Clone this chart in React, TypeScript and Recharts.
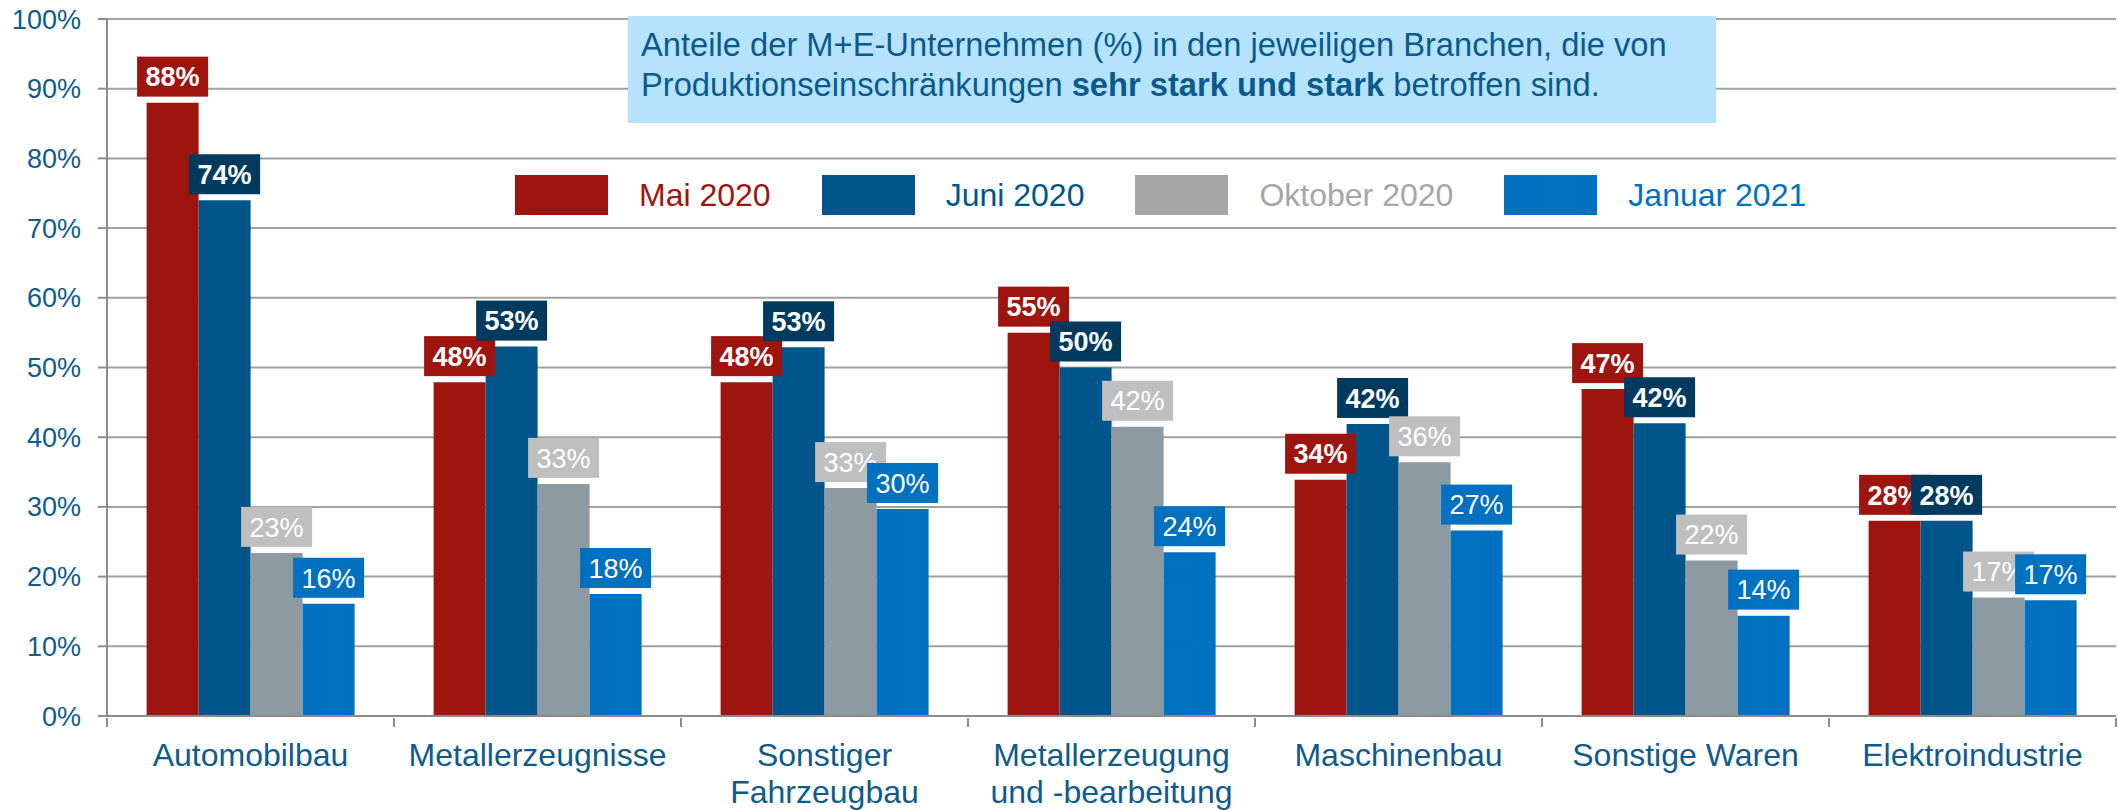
import React from 'react';
import { BarChart, Bar, XAxis, YAxis, CartesianGrid, Legend, LabelList } from 'recharts';

const FONT = '"Liberation Sans", Arial, sans-serif';

const CATEGORIES = [
  'Automobilbau',
  'Metallerzeugnisse',
  'Sonstiger\nFahrzeugbau',
  'Metallerzeugung\nund -bearbeitung',
  'Maschinenbau',
  'Sonstige Waren',
  'Elektroindustrie',
];
const MAI_2020 = [88, 47.9, 47.9, 55, 33.9, 46.9, 28];
const JUNI_2020 = [74, 53, 52.9, 50, 41.9, 42, 28];
const OKTOBER_2020 = [23.4, 33.3, 32.7, 41.5, 36.4, 22.3, 17];
const JANUAR_2021 = [16.1, 17.5, 29.7, 23.5, 26.6, 14.4, 16.6];
const Y_TICKS = [0, 10, 20, 30, 40, 50, 60, 70, 80, 90, 100];

const SERIES = [
  { key: 'mai', name: 'Mai 2020', bar: '#9E1510', labelBg: '#9E1510', swatch: '#9E1510', text: '#9E1510', bold: true },
  { key: 'juni', name: 'Juni 2020', bar: '#00568A', labelBg: '#003A5F', swatch: '#00568A', text: '#00568A', bold: true },
  { key: 'okt', name: 'Oktober 2020', bar: '#8E9AA2', labelBg: '#BFBFBF', swatch: '#A6A6A6', text: '#A6A6A6', bold: false },
  { key: 'jan', name: 'Januar 2021', bar: '#0071C1', labelBg: '#0070C0', swatch: '#0070C0', text: '#0070C0', bold: false },
];

const data = CATEGORIES.map((name, i) => ({
  name,
  mai: MAI_2020[i],
  juni: JUNI_2020[i],
  okt: OKTOBER_2020[i],
  jan: JANUAR_2021[i],
}));

const AXIS_TEXT = '#0E5B8C';
const AXIS_LINE = '#8C8C8C';

// category label, plus the little tick marks at the category boundaries
const CategoryTick = (props: any) => {
  const { x, y, payload, index } = props;
  const half = payload && payload.offset ? payload.offset : 143.5;
  const lines = String(payload.value).split('\n');
  return (
    <g>
      <line x1={x - half} y1={y} x2={x - half} y2={y + 9} stroke={AXIS_LINE} strokeWidth={2} />
      {index === CATEGORIES.length - 1 && (
        <line x1={x + half} y1={y} x2={x + half} y2={y + 9} stroke={AXIS_LINE} strokeWidth={2} />
      )}
      {lines.map((l, i) => (
        <text key={i} x={x} y={y + 48 + i * 37} textAnchor="middle" fill={AXIS_TEXT} fontSize={32} fontFamily={FONT}>
          {l}
        </text>
      ))}
    </g>
  );
};

const makeLabel = (s: (typeof SERIES)[number]) => (props: any) => {
  const { x, y, width, value } = props;
  if (value == null) return null;
  const cx = Number(x) + Number(width) / 2;
  const bottom = Number(y) - 6;
  return (
    <g>
      <rect x={cx - 35.5} y={bottom - 40} width={71} height={40} fill={s.labelBg} />
      <text
        x={cx}
        y={bottom - 20}
        dy="0.36em"
        textAnchor="middle"
        fill="#fff"
        fontSize={27}
        fontWeight={s.bold ? 700 : 400}
        fontFamily={FONT}
      >
        {Math.round(Number(value))}%
      </text>
    </g>
  );
};

const renderLegend = () => (
  <div style={{ display: 'flex', alignItems: 'center', fontFamily: FONT, fontSize: 32, whiteSpace: 'nowrap' }}>
    {SERIES.map((s) => (
      <div key={s.key} style={{ display: 'flex', alignItems: 'center', marginRight: 51 }}>
        <span style={{ display: 'inline-block', width: 93, height: 40, background: s.swatch, marginRight: 31 }} />
        <span style={{ color: s.text }}>{s.name}</span>
      </div>
    ))}
  </div>
);

export default function App() {
  return (
    <div style={{ position: 'absolute', left: 0, top: 0, width: 2118, height: 810, background: '#fff', fontFamily: FONT }}>
      <BarChart
        width={2118}
        height={810}
        data={data}
        margin={{ top: 19, right: 2, bottom: 0, left: 0 }}
        barCategoryGap="13.8%"
        barGap={0}
      >
        <CartesianGrid xAxisId="main" vertical={false} stroke="#A0A0A0" strokeWidth={2} />
        <XAxis
          xAxisId="main"
          dataKey="name"
          height={94}
          interval={0}
          tickLine={false}
          tickSize={0}
          tick={<CategoryTick />}
          axisLine={{ stroke: AXIS_LINE, strokeWidth: 2 }}
        />
        <XAxis xAxisId="labels" dataKey="name" hide height={0} />
        <YAxis
          width={107}
          domain={[0, 100]}
          ticks={Y_TICKS}
          interval={0}
          tickFormatter={(v) => `${v}%`}
          tick={{ fill: AXIS_TEXT, fontSize: 27, fontFamily: FONT }}
          tickSize={9}
          tickMargin={17}
          tickLine={{ stroke: AXIS_LINE, strokeWidth: 2 }}
          axisLine={{ stroke: AXIS_LINE, strokeWidth: 2 }}
        />
        {SERIES.map((s) => (
          <Bar key={s.key} xAxisId="main" dataKey={s.key} name={s.name} fill={s.bar} isAnimationActive={false} />
        ))}
        {/* second set on a hidden axis so the value boxes sit above every bar */}
        {SERIES.map((s) => (
          <Bar
            key={s.key + '-lbl'}
            xAxisId="labels"
            dataKey={s.key}
            fill="transparent"
            legendType="none"
            isAnimationActive={false}
          >
            <LabelList dataKey={s.key} content={makeLabel(s)} />
          </Bar>
        ))}
        <Legend
          layout="horizontal"
          verticalAlign="middle"
          align="center"
          content={renderLegend}
          wrapperStyle={{ top: 175, left: 515, width: 1500, height: 40 }}
        />
      </BarChart>

      <div
        style={{
          position: 'absolute',
          left: 628,
          top: 16,
          width: 1088,
          height: 107,
          boxSizing: 'border-box',
          padding: '9px 0 0 13px',
          background: '#B5E3FD',
          color: '#0B5A8C',
          fontSize: 32.7,
          lineHeight: '40px',
        }}
      >
        Anteile der M+E-Unternehmen (%) in den jeweiligen Branchen, die von
        <br />
        Produktionseinschränkungen <b>sehr stark und stark</b> betroffen sind.
      </div>
    </div>
  );
}
